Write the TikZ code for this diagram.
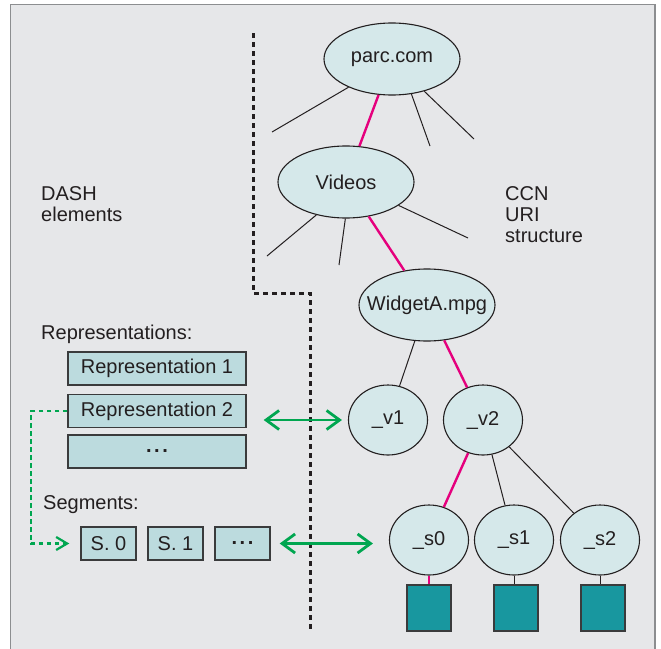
\documentclass[tikz,border=0pt]{standalone}
\usepackage{fontspec}
\setmainfont{Liberation Sans}
\usetikzlibrary{shapes.geometric,arrows.meta,calc}

\definecolor{panel}{HTML}{E6E7E9}
\definecolor{framegray}{HTML}{8C8E90}
\definecolor{ink}{HTML}{231F20}
\definecolor{nodefill}{HTML}{D5E8EA}
\definecolor{boxfill}{HTML}{BCDBDE}
\definecolor{boxline}{HTML}{3A3B3C}
\definecolor{segteal}{HTML}{18979F}
\definecolor{pathpink}{HTML}{E5007D}
\definecolor{linkgreen}{HTML}{00A650}

\newcommand{\moredots}{{\bfseries .\kern2.6pt.\kern2.6pt.}}

\begin{document}
\begin{tikzpicture}[x=1pt,y=-1pt,
  every node/.style={font=\fontsize{20}{21}\selectfont, text=ink},
  uri/.style={ellipse, draw=ink, line width=1.1pt, fill=nodefill, inner sep=0pt,
    minimum width=136pt, minimum height=72pt},
  leaf/.style={ellipse, draw=ink, line width=1.1pt, fill=nodefill, inner sep=0pt,
    minimum width=79pt, minimum height=70pt},
  repbox/.style={rectangle, draw=boxline, line width=1.4pt, fill=boxfill, inner sep=0pt,
    minimum width=178pt, minimum height=33pt},
  segbox/.style={rectangle, draw=boxline, line width=1.4pt, fill=boxfill, inner sep=0pt,
    minimum width=55pt, minimum height=33pt},
  chunk/.style={rectangle, draw=boxline, line width=1.3pt, fill=segteal, inner sep=0pt,
    minimum width=44pt, minimum height=46pt},
  label/.style={anchor=base west, inner sep=0pt, align=left},
  branch/.style={draw=ink, line width=1pt},
  namepath/.style={draw=pathpink, line width=2.4pt},
  divider/.style={draw=ink, line width=3pt, dash pattern=on 4.5pt off 4.5pt},
  maplink/.style={draw=linkgreen, line width=2.8pt,
    {Straight Barb[length=13pt,width=19pt]}-{Straight Barb[length=13pt,width=19pt]}},
  reflink/.style={draw=linkgreen, line width=2.2pt, dash pattern=on 4.5pt off 3.5pt,
    -{Straight Barb[length=11pt,width=13pt]}}
]
\useasboundingbox (0,0) rectangle (661,648);
\fill[white] (0,0) rectangle (661,648);
\filldraw[fill=panel, draw=framegray, line width=1.5pt] (10.5,4.5) rectangle (655,680);

% boundary between the DASH side and the CCN side
\draw[divider] (253,33) -- (253,293) -- (310,293) -- (310,632);

% CCN name tree
\node[uri] (parc) at (392,59) {\makebox[0pt]{parc.com}};
\node[uri] (videos) at (346,182) {\makebox[0pt]{Videos}};
\node[uri] (widget) at (427,305) {\makebox[0pt]{WidgetA.mpg}};
\node[leaf] (v1) at (388,420) {\_v1};
\node[leaf] (v2) at (483,420) {\_v2};
\node[leaf] (s0) at (429,540) {\_s0};
\node[leaf] (s1) at (514,540) {\_s1};
\node[leaf] (s2) at (600,540) {\_s2};
\node[chunk] (c0) at (429,608) {};
\node[chunk] (c1) at (516,608) {};
\node[chunk] (c2) at (603,608) {};

% sibling branches that are not followed
\coordinate (pa) at (272,132);
\coordinate (pb) at (430,146);
\coordinate (pc) at (474,139);
\coordinate (va) at (267,256);
\coordinate (vb) at (339,265);
\coordinate (vc) at (468,238);
\draw[branch] (parc.213.4) -- (pa);
\draw[branch] (parc.-61.5) -- (pb);
\draw[branch] (parc.-45) -- (pc);
\draw[branch] (videos.-132) -- (va);
\draw[branch] (videos.-91.6) -- (vb);
\draw[branch] (videos.-24.8) -- (vc);
\draw[branch] (widget) -- (v1);
\draw[branch] (v2) -- (s1);
\draw[branch] (v2) -- (s2);
\draw[branch] (s1.south) -- (s1.south |- c1.north);
\draw[branch] (s2.south) -- (s2.south |- c2.north);

% path to the requested segment
\draw[namepath] (parc) -- (videos);
\draw[namepath] (videos) -- (widget);
\draw[namepath] (widget) -- (v2);
\draw[namepath] (v2) -- (s0);
\draw[namepath] (s0.south) -- (s0.south |- c0.north);

% DASH side (multi-line labels are placed by their last baseline)
\node[label] (dash) at (41,221) {DASH\\elements};
\node[label] (ccn) at (505,242) {CCN\\URI\\structure};
\node[label] (reps) at (41,339) {Representations:};
\node[repbox] (rep1) at (157,368.5) {Representation 1};
\node[repbox] (rep2) at (157,411) {Representation 2};
\node[repbox] (repd) at (157,451.5) {\moredots};
\node[label] (segs) at (43,509) {Segments:};
\node[segbox] (seg0) at (108.5,543.5) {S. 0};
\node[segbox] (seg1) at (175.5,543.5) {S. 1};
\node[segbox] (segd) at (242.5,543.5) {\moredots};

% mappings between the two sides
\draw[maplink] ([xshift=17pt]rep2.east |- v1.west) -- ([xshift=-6pt]v1.west);
\draw[maplink] ([xshift=9pt]segd.east) -- ([xshift=-16pt]s0.west |- segd.east);
\draw[reflink] (rep2.west) -| ($(seg0.west)+(-49,0)$) -- ([xshift=-11pt]seg0.west);
\end{tikzpicture}
\end{document}
